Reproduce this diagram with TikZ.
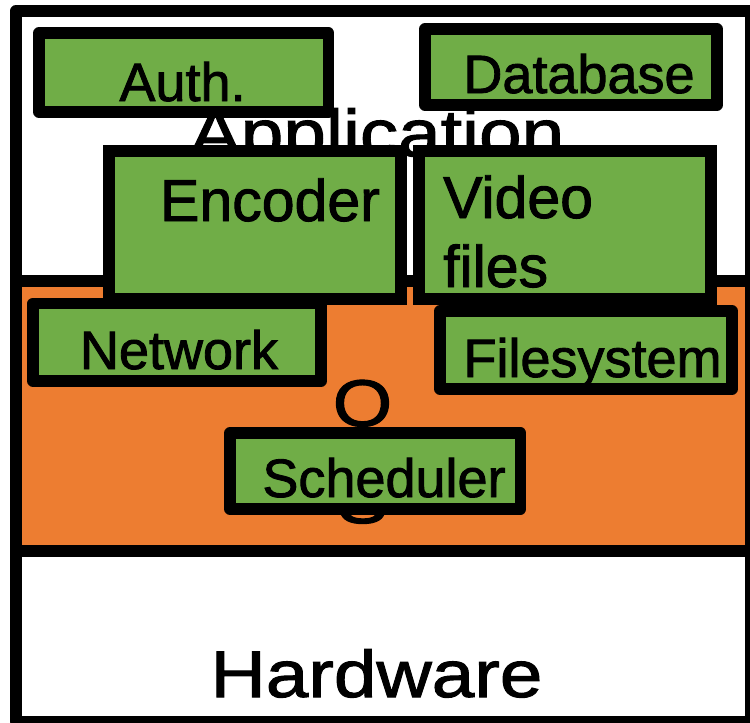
\documentclass[tikz,border=0pt]{standalone}
\usepackage{fontspec}
\setmainfont[FakeBold=1.2]{Liberation Sans}
\newfontfamily\labelfont[FakeBold=1.6]{Liberation Sans}
\newfontfamily\bigfont[FakeStretch=1.16,FakeBold=1.6]{Liberation Sans}
\definecolor{boxgreen}{RGB}{112,173,71}
\definecolor{osorange}{RGB}{237,125,49}
\begin{document}
\begin{tikzpicture}[x=1pt,y=-1pt,
  layerbox/.style={draw=black,line width=11.5pt,line join=round,rectangle,inner sep=0pt,minimum width=735pt},
  box/.style={draw=black,fill=boxgreen,line width=11.5pt,line join=round,rectangle,inner sep=0pt},
  sharpbox/.style={box,line join=miter},
  lbl/.style={inner sep=0pt,anchor=base,font=\labelfont\fontsize{54}{65}\selectfont},
  mlbl/.style={inner sep=0pt,font=\labelfont\fontsize{59}{69}\selectfont},
  biglbl/.style={inner sep=0pt,anchor=base,font=\bigfont\fontsize{66}{97}\selectfont}]
\useasboundingbox (0,0) rectangle (750,723);
% layers
\node[layerbox,fill=white,minimum height=270pt] (app) at (383.25,146) {};
\node[biglbl] (apptext) at (377,156) {Application};
\node[layerbox,fill=osorange,minimum height=270pt] (os) at (383.25,416) {};
\node[biglbl] (ostext) at (362.5,426) {\begin{tabular}[t]{@{}c@{}}O\\S\end{tabular}};
\node[layerbox,fill=white,minimum height=170.5pt] (hw) at (383.25,636.25) {};
\node[biglbl] (hwtext) at (376.5,697) {Hardware};
% components
\node[box,minimum width=289.5pt,minimum height=79pt] (auth) at (183.75,72.5) {};
\node[lbl] (authtext) at (182.5,101) {Auth.};
\node[box,minimum width=292pt,minimum height=76pt] (db) at (571,67) {};
\node[lbl] (dbtext) at (579,93) {Database};
\node[sharpbox,minimum width=292pt,minimum height=148pt] (enc) at (255,225) {};
\node[mlbl,anchor=base] (enctext) at (270,221) {Encoder};
\node[sharpbox,minimum width=292pt,minimum height=148pt] (vid) at (565,225) {};
\node[mlbl,anchor=base west] (vidtext) at (443,218) {\begin{tabular}[t]{@{}l@{}}Video\\files\end{tabular}};
\node[box,minimum width=288pt,minimum height=77.5pt] (net) at (177,342.25) {};
\node[lbl] (nettext) at (179,369) {Network};
\node[box,minimum width=292pt,minimum height=78pt] (fs) at (586,350) {};
\node[lbl] (fstext) at (592.5,377) {Filesystem};
\node[box,minimum width=290.5pt,minimum height=76pt] (sched) at (375.25,471) {};
\node[lbl] (schedtext) at (384,497) {Scheduler};
\end{tikzpicture}
\end{document}
